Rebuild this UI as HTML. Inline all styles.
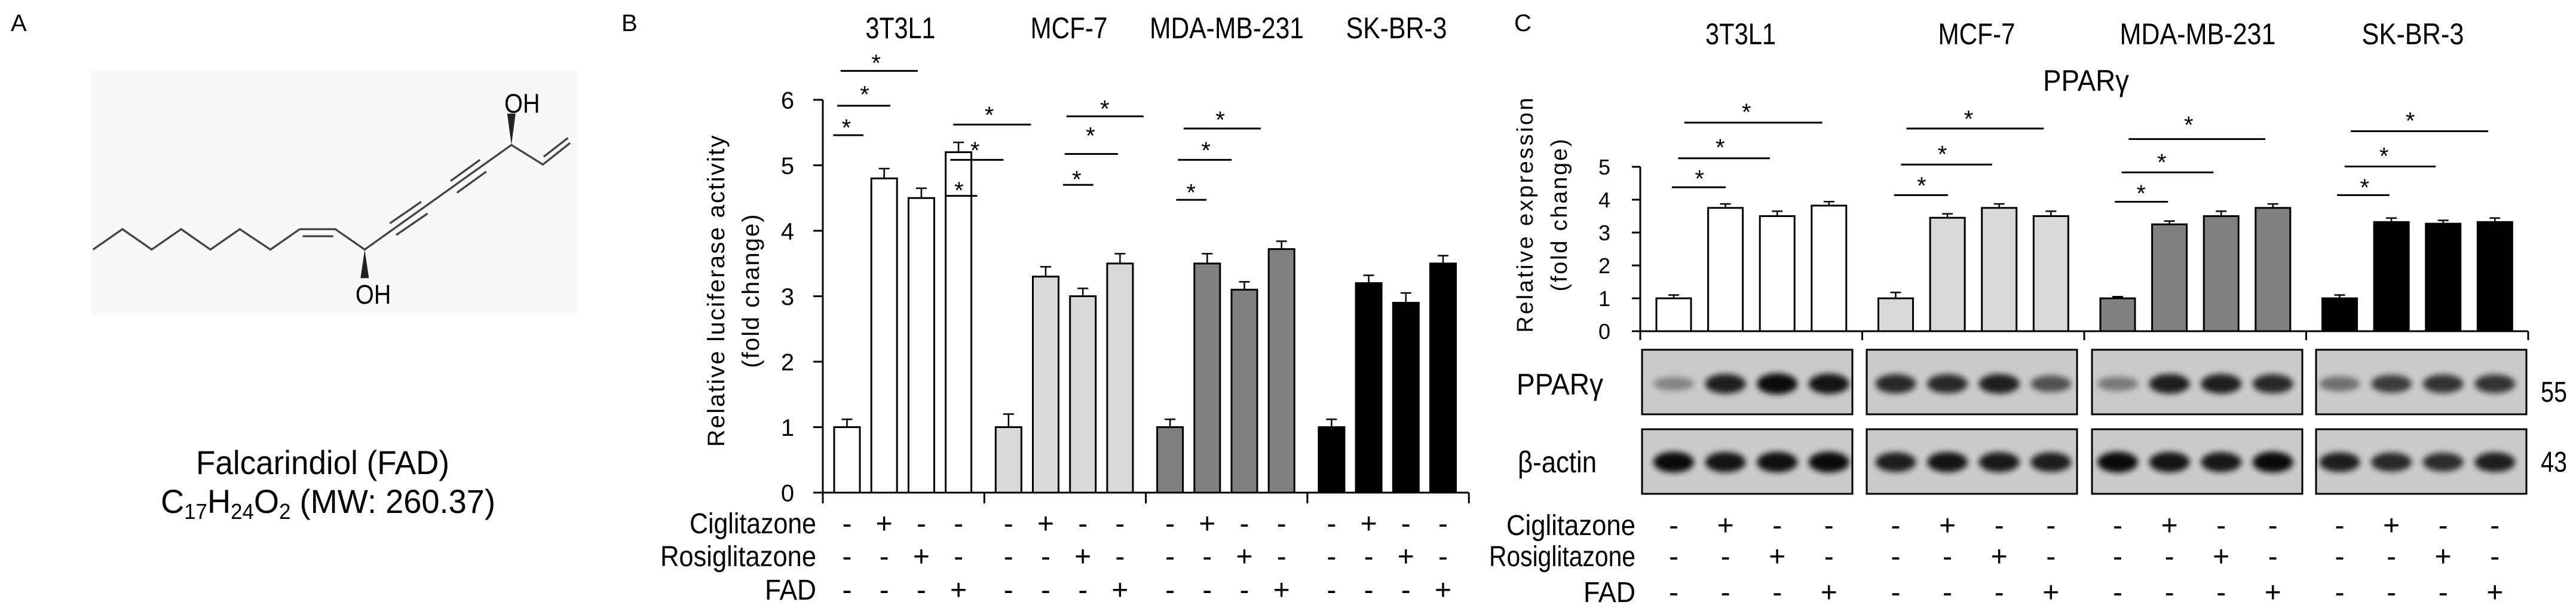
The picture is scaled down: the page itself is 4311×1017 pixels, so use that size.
<!DOCTYPE html>
<html><head><meta charset="utf-8"><style>
html,body{margin:0;padding:0;background:#fff;}
svg{display:block;}
text{font-family:"Liberation Sans Narrow","Liberation Sans",sans-serif;fill:#000;}
.wide{font-family:"Liberation Sans",sans-serif;}
</style></head><body>
<svg id="fig" width="4311" height="1017" viewBox="0 0 4311 1017" xmlns="http://www.w3.org/2000/svg">
<defs><filter id="blur" x="-50%" y="-100%" width="200%" height="300%"><feGaussianBlur stdDeviation="5"/></filter></defs>
<g>
<text class="wide" x="18" y="52" font-size="40">A</text>
<text class="wide" x="1040" y="52" font-size="40">B</text>
<svg x="0" y="0" width="1100" height="1017" viewBox="0 0 1568 1552" preserveAspectRatio="none">
<rect x="218" y="180" width="1159" height="625" fill="#f8f8fa"/>
<g fill="none" stroke="#444" stroke-width="5">
<polyline points="222,637 292,585 362,637 432,585 502,637 572,585 645,637 715,585 800,585 870,637 1220,370 1295,420 1360,365"/>
<line x1="722" y1="603" x2="795" y2="603"/>
<line x1="930" y1="570" x2="1005" y2="515"/><line x1="945" y1="600" x2="1020" y2="545"/>
<line x1="1075" y1="462" x2="1145" y2="408"/><line x1="1090" y1="492" x2="1160" y2="438"/>
<line x1="1297" y1="400" x2="1355" y2="352"/>
</g>
<polygon points="870,637 860,710 880,710" fill="#222"/>
<polygon points="1220,370 1210,290 1230,290" fill="#222"/>
<text class="wide" x="848" y="775" font-size="70" textLength="85" lengthAdjust="spacingAndGlyphs" fill="#222">OH</text>
<text class="wide" x="1203" y="288" font-size="70" textLength="85" lengthAdjust="spacingAndGlyphs" fill="#222">OH</text>
</svg>
<text class="wide" x="540" y="793" font-size="56" text-anchor="middle" textLength="424" lengthAdjust="spacingAndGlyphs" fill="#222">Falcarindiol (FAD)</text>
<text class="wide" x="269" y="858" font-size="56" textLength="560" lengthAdjust="spacingAndGlyphs" fill="#222">C<tspan font-size="36" dy="10">17</tspan><tspan dy="-10">H</tspan><tspan font-size="36" dy="10">24</tspan><tspan dy="-10">O</tspan><tspan font-size="36" dy="10">2</tspan><tspan dy="-10"> (MW: 260.37)</tspan></text>
</g>
<g id="pb"></g>
<g id="pc"></g>
</svg>
<script>
const cellLines = ["3T3L1", "MCF-7", "MDA-MB-231", "SK-BR-3"];
const bValues = [[1, 4.8, 4.5, 5.2], [1, 3.3, 3.0, 3.5], [1, 3.5, 3.1, 3.72], [1, 3.2, 2.9, 3.5]];
const bErrors = [[0.12, 0.15, 0.15, 0.15], [0.2, 0.15, 0.12, 0.15], [0.12, 0.15, 0.12, 0.12], [0.12, 0.12, 0.15, 0.12]];
const bTicks = [0, 1, 2, 3, 4, 5, 6];
const cValues = [[1, 3.75, 3.5, 3.82], [1, 3.45, 3.75, 3.5], [1, 3.25, 3.5, 3.75], [1, 3.32, 3.27, 3.32]];
const cErrors = [[0.1, 0.12, 0.15, 0.12], [0.18, 0.12, 0.12, 0.15], [0.05, 0.1, 0.15, 0.12], [0.1, 0.12, 0.1, 0.12]];
const cTicks = [0, 1, 2, 3, 4, 5];
const pparBands = [[0.35, 0.85, 0.95, 0.9], [0.8, 0.8, 0.85, 0.6], [0.4, 0.85, 0.85, 0.8], [0.45, 0.7, 0.75, 0.75]];
const actinBands = [[0.95, 0.9, 0.92, 0.95], [0.85, 0.9, 0.88, 0.85], [0.95, 0.9, 0.88, 0.95], [0.85, 0.8, 0.78, 0.85]];
const treatments = ["Ciglitazone", "Rosiglitazone", "FAD"];
const treatMatrix = [["-", "+", "-", "-"], ["-", "-", "+", "-"], ["-", "-", "-", "+"]];
const colors = ["#ffffff", "#d9d9d9", "#808080", "#000000"];

const NS = "http://www.w3.org/2000/svg";
function mk(parent, tag, attrs, txt) {
  const e = document.createElementNS(NS, tag);
  for (const k in attrs) e.setAttribute(k, attrs[k]);
  if (txt !== undefined) e.textContent = txt;
  parent.appendChild(e);
  return e;
}

function chart(g, cfg, values, errors, ticks, prefix) {
  const yS = v => cfg.y0 - v * cfg.unit;
  const xS = (gi, bi) => cfg.first + gi * cfg.gs + bi * cfg.bs;
  let a = mk(g, "line", {x1: cfg.ax, y1: yS(ticks[ticks.length - 1]), x2: cfg.ax, y2: cfg.y0, stroke: "#000", "stroke-width": 3});
  
  
  a = mk(g, "line", {x1: cfg.axL, y1: cfg.y0, x2: cfg.ax + 4 * cfg.gs, y2: cfg.y0, stroke: "#000", "stroke-width": 3});
  
  
  for (let k = 0; k <= 4; k++) {
    const t = mk(g, "line", {x1: cfg.ax + k * cfg.gs, y1: cfg.y0, x2: cfg.ax + k * cfg.gs, y2: cfg.y0 + cfg.tickDown, stroke: "#000", "stroke-width": 3});
    
    
  }
  ticks.forEach(v => {
    const t = mk(g, "line", {x1: cfg.axL, y1: yS(v), x2: cfg.ax, y2: yS(v), stroke: "#000", "stroke-width": 3});
    
    
    const l = mk(g, "text", {x: cfg.tlx, y: yS(v) + cfg.tfs * 0.36, "font-size": cfg.tfs, "text-anchor": "middle"}, String(v));
    
    
  });
  values.forEach((grp, gi) => {
    grp.forEach((v, bi) => {
      const cx = xS(gi, bi);
      const r = mk(g, "rect", {x: cx - cfg.bw / 2, y: yS(v), width: cfg.bw, height: cfg.y0 - yS(v), fill: colors[gi], stroke: "#000", "stroke-width": 3});
      
      
      const e = errors[gi][bi];
      const eb = mk(g, "path", {d: `M${cx},${yS(v)} V${yS(v + e)} M${cx - 9},${yS(v + e)} H${cx + 9}`, stroke: "#000", "stroke-width": 2.5, fill: "none"});
      
      
    });
    const gl = mk(g, "text", {x: cfg.glx[gi], y: cfg.gly, "font-size": 50, "text-anchor": "middle", textLength: cfg.glw[gi], lengthAdjust: "spacingAndGlyphs"}, cellLines[gi]);
    
    
  });
  treatments.forEach((tn, ri) => {
    const ty = cfg.rowY[ri];
    const l = mk(g, "text", {x: cfg.rowLx - cfg.roww[ri], y: ty + 17, "font-size": 48, textLength: cfg.roww[ri], lengthAdjust: "spacingAndGlyphs"}, tn);
    
    
    for (let gi = 0; gi < 4; gi++) for (let bi = 0; bi < 4; bi++) {
      const s = mk(g, "text", {x: xS(gi, bi), y: ty + 17, "font-size": 48, "text-anchor": "middle"}, treatMatrix[ri][bi]);
      
      
    }
  });
  return {xS, yS};
}

function sig(g, list, fx, fy, prefix) {
  list.forEach(s => {
    const l = mk(g, "line", {x1: fx(s[0]), x2: fx(s[1]), y1: fy(s[2]), y2: fy(s[2]), stroke: "#000", "stroke-width": 3});
    
    
    const t = mk(g, "text", {x: fx(s[3]), y: fy(s[4]) + 24, "font-size": 40, "text-anchor": "middle"}, "*");
    
    
  });
}

const pb = document.getElementById("pb");
chart(pb, {ax: 1377, axL: 1361, y0: 824, unit: 109.5, first: 1417.5, bs: 62.2, gs: 270.3, bw: 43, tickDown: 18, tlx: 1318, tfs: 40,
  glx: [1507, 1789, 2053, 2337], glw: [117, 129, 258, 169], gly: 64, rowY: [875, 930, 986], rowLx: 1366, roww: [212, 261, 86]}, bValues, bErrors, bTicks, "luciferase");
let t = mk(pb, "text", {transform: "translate(1212,487) rotate(-90)", "font-size": 40, "text-anchor": "middle", textLength: 521, lengthAdjust: "spacing", class: "wide"}, "Relative luciferase activity");


t = mk(pb, "text", {transform: "translate(1270,487) rotate(-90)", "font-size": 40, "text-anchor": "middle", textLength: 257, lengthAdjust: "spacing", class: "wide"}, "(fold change)");


sig(pb, [[360,413,345,383,310],[367,460,270,415,225],[373,508,181,435,145],[557,612,500,580,470],[565,658,408,608,368],[570,706,318,633,278],
  [762,815,472,786,442],[765,858,393,810,330],[768,903,297,835,262],[960,1013,510,986,475],[963,1057,408,1012,368],[973,1108,328,1037,290]],
  z => 1050 + z / 1.0453, z => z / 1.526, "luciferase");

const pc = document.getElementById("pc");
t = mk(pc, "text", {x: 2534, y: 52, "font-size": 40, class: "wide"}, "C");


const C = chart(pc, {ax: 2745, axL: 2731, y0: 554, unit: 55, first: 2801, bs: 86.6, gs: 371.5, bw: 58, tickDown: 15, tlx: 2685, tfs: 36,
  glx: [2913, 3308, 3678, 4038], glw: [118, 129, 261, 171], gly: 74, rowY: [878, 930, 990], rowLx: 2737, roww: [216, 245, 87]}, cValues, cErrors, cTicks, "expression");
t = mk(pc, "text", {x: 3491, y: 152, "font-size": 50, "text-anchor": "middle", textLength: 144, lengthAdjust: "spacingAndGlyphs"}, "PPARγ");


t = mk(pc, "text", {transform: "translate(2565,360) rotate(-90)", "font-size": 38, "text-anchor": "middle", textLength: 393, lengthAdjust: "spacing", class: "wide"}, "Relative expression");


t = mk(pc, "text", {transform: "translate(2622,360) rotate(-90)", "font-size": 38, "text-anchor": "middle", textLength: 255, lengthAdjust: "spacing", class: "wide"}, "(fold change)");


sig(pc, [[258,336,478,298,440],[267,400,404,328,360],[276,476,313,366,270],[580,658,498,620,458],[590,722,420,650,378],[598,797,328,688,288],
  [900,977,515,938,478],[910,1043,440,968,398],[920,1118,355,1007,303],[1222,1298,498,1262,462],[1233,1365,425,1290,382],[1242,1441,335,1328,292]],
  z => 2500 + z / 0.866, z => z / 1.526, "expression");

const boxX = [2748, 3124, 3501, 3876];
function blot(y, h, bands, bandY, name) {
  boxX.forEach((bx, gi) => {
    const r = mk(pc, "rect", {x: bx, y: y, width: 352, height: h, fill: "#cacaca", stroke: "#000", "stroke-width": 3});
    
    
    bands[gi].forEach((v, bi) => {
      const cx = C.xS(gi, bi);
      const b = mk(pc, "ellipse", {cx: cx, cy: bandY, rx: 34, ry: 8 + 10 * v, fill: "#000", opacity: v, filter: "url(#blur)"});
      
      
    });
  });
}
blot(585, 108, pparBands, 642, "ppar");
blot(718, 108, actinBands, 773, "actin");
t = mk(pc, "text", {x: 2538, y: 660, "font-size": 50, textLength: 145, lengthAdjust: "spacingAndGlyphs"}, "PPARγ");


t = mk(pc, "text", {x: 2540, y: 790, "font-size": 50, textLength: 132, lengthAdjust: "spacingAndGlyphs"}, "β-actin");


t = mk(pc, "text", {x: 4252, y: 672, "font-size": 48, textLength: 44, lengthAdjust: "spacingAndGlyphs"}, "55");


t = mk(pc, "text", {x: 4252, y: 789, "font-size": 48, textLength: 44, lengthAdjust: "spacingAndGlyphs"}, "43");


</script>
</body></html>
